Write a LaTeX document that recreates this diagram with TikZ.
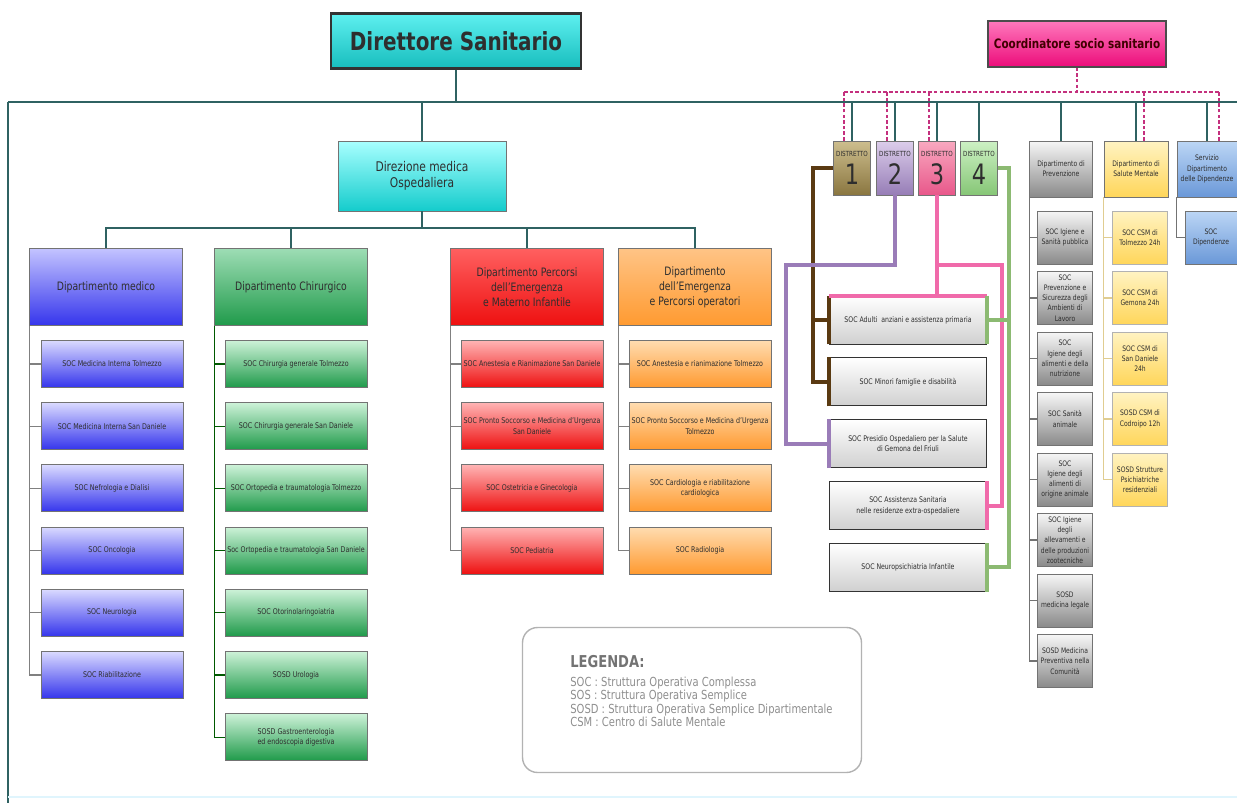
\documentclass[tikz,border=0pt]{standalone}
\usepackage{fontspec}
\setmainfont{DejaVu Sans}[FakeStretch=0.8]
\usetikzlibrary{positioning, calc}

\definecolor{lineteal}{HTML}{2F6262}
\definecolor{dashpink}{HTML}{C4307E}
\definecolor{d1brown}{HTML}{5A3A12}
\definecolor{d2purple}{HTML}{9A7CB8}
\definecolor{d3pink}{HTML}{F06AAA}
\definecolor{d4green}{HTML}{8CBA72}
\definecolor{legray}{HTML}{8E8E8E}
\definecolor{cyanT}{HTML}{5EF0F0}
\definecolor{cyanB}{HTML}{17BDBD}
\definecolor{dmT}{HTML}{A8FFFF}
\definecolor{dmB}{HTML}{14CCCC}
\definecolor{pinkT}{HTML}{FF78BC}
\definecolor{pinkB}{HTML}{EC0C7A}
\definecolor{blueT}{HTML}{DADAFF}
\definecolor{blueB}{HTML}{3434EC}
\definecolor{blueHT}{HTML}{C4C4FF}
\definecolor{greenT}{HTML}{CDF2D8}
\definecolor{greenB}{HTML}{1F9A4A}
\definecolor{greenHT}{HTML}{9EDDB5}
\definecolor{redT}{HTML}{FFB4B4}
\definecolor{redB}{HTML}{EE1010}
\definecolor{redHT}{HTML}{FF6060}
\definecolor{oranT}{HTML}{FFDCB0}
\definecolor{oranB}{HTML}{FF9A30}
\definecolor{oranHT}{HTML}{FFC486}
\definecolor{grayT}{HTML}{F6F6F6}
\definecolor{grayB}{HTML}{8A8A8A}
\definecolor{yellT}{HTML}{FFF3C2}
\definecolor{yellB}{HTML}{FFD65A}
\definecolor{servT}{HTML}{BCD6F5}
\definecolor{servB}{HTML}{6A98D8}
\definecolor{whT}{HTML}{FFFFFF}
\definecolor{whB}{HTML}{D0D0D0}
\definecolor{distT1}{HTML}{CDBE8E}
\definecolor{distB1}{HTML}{8A7640}
\definecolor{distT2}{HTML}{DCCDEB}
\definecolor{distB2}{HTML}{967DB6}
\definecolor{distT3}{HTML}{F9A9C0}
\definecolor{distB3}{HTML}{E8578A}
\definecolor{distT4}{HTML}{CDF1C4}
\definecolor{distB4}{HTML}{86C676}

\tikzset{
  box/.style={draw=black!55, line width=0.5pt, align=center, inner sep=1pt, text=black!82},
  deptbox/.style={box, font=\fontsize{6.6}{8.5}\selectfont, minimum width=3.06cm, minimum height=1.55cm},
  unitbox/.style={box, font=\fontsize{4.5}{6}\selectfont, minimum width=2.84cm, minimum height=0.94cm},
  narrowbox/.style={box, font=\fontsize{4.3}{5.8}\selectfont, minimum width=1.1cm, minimum height=1.06cm},
  servbox/.style={box, draw=black!80, font=\fontsize{4.4}{6}\selectfont, minimum width=3.14cm,
    minimum height=0.96cm, top color=whT, bottom color=whB},
  distbox/.style={box, font=\fontsize{4}{8}\selectfont, minimum width=0.74cm, minimum height=1.08cm, inner sep=0pt},
  spineline/.style={draw=#1, line width=0.6pt},
  distlink/.style={draw=#1, line width=2.3pt},
  mainline/.style={draw=lineteal, line width=1.2pt},
  dropline/.style={draw=lineteal, line width=0.7pt},
  dashline/.style={draw=dashpink, line width=0.6pt, dash pattern=on 2pt off 1.2pt}
}

\begin{document}
\begin{tikzpicture}[x=0.02cm, y=-0.02cm]
\useasboundingbox (0,0) rectangle (1237,803);

\node[box, draw=black!80, line width=1.3pt, top color=cyanT, bottom color=cyanB, minimum width=5cm,
  minimum height=1.1cm, font=\fontsize{14.2}{16}\selectfont\bfseries] (dir) at (456,41) {Direttore Sanitario};
\node[box, draw=black!70, line width=0.8pt, top color=pinkT, bottom color=pinkB, minimum width=3.56cm,
  minimum height=0.92cm, text=black!75!red, font=\fontsize{7.4}{8}\selectfont\bfseries] (coord) at (1077,44) {Coordinatore socio sanitario};

\coordinate (ml) at (8,102);
\coordinate (mr) at (1237,102);
\coordinate (fb) at (8,803);
\coordinate (fr) at (1237,797);
\draw[mainline] (mr) -- (ml);
\draw[dropline] (ml) -- (fb);
\draw[draw=cyan!12, line width=1pt] (fb |- fr) -- (fr);
\draw[dropline] (dir.south) -- (dir.south |- ml);

% ospedale
\node[box, top color=dmT, bottom color=dmB, minimum width=3.36cm, minimum height=1.4cm,
  font=\fontsize{7.6}{8.8}\selectfont] (dirmed) at (422,176) {Direzione medica\\Ospedaliera};
\draw[dropline] (dirmed.north) -- (dirmed.north |- ml);

\node[deptbox, top color=blueHT, bottom color=blueB] (med) at (106,287) {Dipartimento medico};
\node[deptbox, top color=greenHT, bottom color=greenB] (chir) at (291,287) {Dipartimento Chirurgico};
\node[deptbox, top color=redHT, bottom color=redB] (perc) at (527,287) {Dipartimento Percorsi\\dell'Emergenza\\e Materno Infantile};
\node[deptbox, top color=oranHT, bottom color=oranB] (emerg) at (695,287) {Dipartimento\\dell'Emergenza\\e Percorsi operatori};
\coordinate (bar) at (422,228);
\draw[dropline] (dirmed.south) -- (bar);
\draw[dropline] (med.north) |- (bar) -| (emerg.north);
\foreach \n in {chir,perc} \draw[dropline] (\n.north) -- (\n.north |- bar);

\foreach \t [count=\i] in {SOC Medicina Interna Tolmezzo, SOC Medicina Interna San Daniele,
    SOC Nefrologia e Dialisi, SOC Oncologia, SOC Neurologia, SOC Riabilitazione}
  \node[unitbox, top color=blueT, bottom color=blueB] (med\i) at (112,{364+62.2*(\i-1)}) {\t};
\foreach \i in {1,...,6} \draw[spineline=black!50] (med.south west) |- (med\i.west);

\foreach \t [count=\i] in {SOC Chirurgia generale Tolmezzo, SOC Chirurgia generale San Daniele,
    SOC Ortopedia e traumatologia Tolmezzo, Soc Ortopedia e traumatologia San Daniele,
    SOC Otorinolaringoiatria, SOSD Urologia, {SOSD Gastroenterologia\\ed endoscopia digestiva}}
  \node[unitbox, top color=greenT, bottom color=greenB] (chir\i) at (296,{364+62.2*(\i-1)}) {\t};
\foreach \i in {1,...,7} \draw[spineline=green!35!black] (chir.south west) |- (chir\i.west);

\foreach \t [count=\i] in {SOC Anestesia e Rianimazione San Daniele,
    {SOC Pronto Soccorso e Medicina d'Urgenza\\San Daniele}, SOC Ostetricia e Ginecologia, SOC Pediatria}
  \node[unitbox, top color=redT, bottom color=redB] (perc\i) at (532,{364+62.2*(\i-1)}) {\t};
\foreach \i in {1,...,4} \draw[spineline=black!50] (perc.south west) |- (perc\i.west);

\foreach \t [count=\i] in {SOC Anestesia e rianimazione Tolmezzo,
    {SOC Pronto Soccorso e Medicina d'Urgenza\\Tolmezzo}, {SOC Cardiologia e riabilitazione\\cardiologica}, SOC Radiologia}
  \node[unitbox, top color=oranT, bottom color=oranB] (emerg\i) at (700,{364+62.2*(\i-1)}) {\t};
\foreach \i in {1,...,4} \draw[spineline=black!50] (emerg.south west) |- (emerg\i.west);

% distretti
\foreach \nr/\x in {1/852,2/895,3/937,4/979}
  \node[distbox, top color=distT\nr, bottom color=distB\nr] (d\nr) at (\x,168) {DISTRETTO\\[3pt]{\fontsize{16}{16}\selectfont\nr}};

\node[servbox] (adulti) at (908,320) {SOC Adulti\ \ anziani e assistenza primaria};
\node[servbox, below=0.26cm of adulti] (minori) {SOC Minori famiglie e disabilità};
\node[servbox, below=0.26cm of minori] (presidio) {SOC Presidio Ospedaliero per la Salute\\di Gemona del Friuli};
\node[servbox, below=0.26cm of presidio] (assist) {SOC Assistenza Sanitaria\\nelle residenze extra-ospedaliere};
\node[servbox, below=0.26cm of assist] (neuro) {SOC Neuropsichiatria Infantile};

\coordinate (b1) at (813,168);
\draw[distlink=d1brown] (d1.west) -- (b1) |- (minori.west);
\draw[distlink=d1brown] (b1) |- (adulti.west);
\draw[distlink=d1brown] (adulti.south west) -- (adulti.north west);
\draw[distlink=d1brown] (minori.south west) -- (minori.north west);

\coordinate (b2) at (786,265);
\draw[distlink=d2purple] (d2.south) |- (b2) |- (presidio.west);
\draw[distlink=d2purple] (presidio.south west) -- (presidio.north west);

\coordinate (b3) at (1002,265);
\draw[distlink=d3pink] (d3.south) -- (d3.south |- adulti.north);
\draw[distlink=d3pink] (d3.south |- b3) -- (b3) |- (assist.east);
\draw[distlink=d3pink] (adulti.north west) -- (adulti.north east);
\draw[distlink=d3pink] (assist.north east) -- (assist.south east);

\coordinate (b4) at (1009,168);
\draw[distlink=d4green] (d4.east) -- (b4) |- (neuro.east);
\draw[distlink=d4green] (b4) |- (adulti.east);
\draw[distlink=d4green] (adulti.north east) -- (adulti.south east);
\draw[distlink=d4green] (neuro.north east) -- (neuro.south east);

% prevenzione, salute mentale, dipendenze
\node[narrowbox, minimum width=1.26cm, minimum height=1.12cm, top color=grayT, bottom color=grayB] (prev) at (1061,169) {Dipartimento di\\Prevenzione};
\node[narrowbox, minimum width=1.28cm, minimum height=1.12cm, top color=yellT, bottom color=yellB] (salute) at (1136,169) {Dipartimento di\\Salute Mentale};
\node[narrowbox, minimum width=1.2cm, minimum height=1.12cm, top color=servT, bottom color=servB] (serv) at (1207,169) {Servizio\\Dipartimento\\delle Dipendenze};

\foreach \t [count=\i] in {{SOC Igiene e\\Sanità pubblica}, {SOC\\Prevenzione e\\Sicurezza degli\\Ambienti di\\Lavoro},
    {SOC\\Igiene degli\\alimenti e della\\nutrizione}, {SOC Sanità\\animale}, {SOC\\Igiene degli\\alimenti di\\origine animale},
    {SOC Igiene\\degli\\allevamenti e\\delle produzioni\\zootecniche}, {SOSD\\medicina legale}, {SOSD Medicina\\Preventiva nella\\Comunità}}
  \node[narrowbox, top color=grayT, bottom color=grayB] (prev\i) at (1065,{237.5+60.5*(\i-1)}) {\t};
\foreach \i in {1,...,8} \draw[spineline=black!55] (prev.south west) |- (prev\i.west);

\foreach \t [count=\i] in {{SOC CSM di\\Tolmezzo 24h}, {SOC CSM di\\Gemona 24h}, {SOC CSM di\\San Daniele\\24h},
    {SOSD CSM di\\Codroipo 12h}, {SOSD Strutture\\Psichiatriche\\residenziali}}
  \node[narrowbox, draw=black!30, top color=yellT, bottom color=yellB] (salute\i) at (1140,{237.5+60.5*(\i-1)}) {\t};
\foreach \i in {1,...,5} \draw[spineline=yellB!80!black!60] (salute.south west) |- (salute\i.west);

\node[narrowbox, minimum width=1.04cm, top color=servT, bottom color=servB] (dip) at (1211,237.5) {SOC\\Dipendenze};
\draw[spineline=black!55] (serv.south west) |- (dip.west);

\foreach \n in {d1,d2,d3,d4,prev,salute,serv} \draw[dropline] (\n.north) -- (\n.north |- ml);

\coordinate (dbar) at (0,92);
\draw[dashline] (coord.south) -- (coord.south |- dbar);
\draw[dashline] ($(d1.north |- dbar)+(-8,0)$) -- ($(serv.north |- dbar)+(12,0)$);
\foreach \n/\dx in {d1/-8,d2/-8,d3/-8,salute/8,serv/12}
  \draw[dashline] ($(\n.north)+(\dx,0)$) -- ($(\n.north |- dbar)+(\dx,0)$);

% legenda
\node[draw=black!30, line width=0.8pt, rounded corners=0.3cm, minimum width=6.78cm, minimum height=2.9cm] (legbox) at (692,700) {};
\node[anchor=north west, align=left, inner sep=0pt, text=legray, font=\fontsize{7.1}{7.7}\selectfont] (legtext) at (570,655)
  {{\fontsize{9.3}{10}\selectfont\bfseries\color{black!55}LEGENDA:}\\[3pt]
   SOC : Struttura Operativa Complessa\\
   SOS : Struttura Operativa Semplice\\
   SOSD : Struttura Operativa Semplice Dipartimentale\\
   CSM : Centro di Salute Mentale};
\end{tikzpicture}
\end{document}
